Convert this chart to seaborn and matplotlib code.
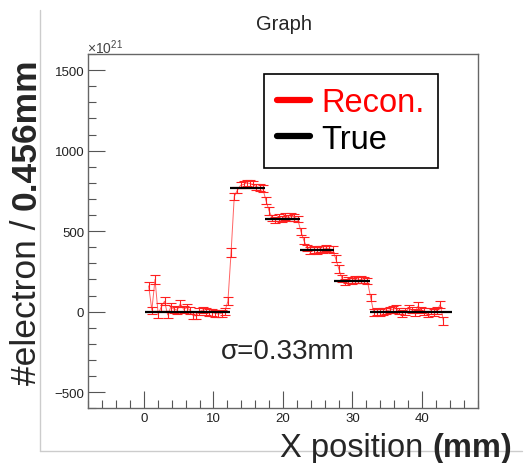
import numpy as np
import pandas as pd
import matplotlib
matplotlib.use("Agg")
import matplotlib.pyplot as plt
from matplotlib.lines import Line2D
from matplotlib.ticker import MultipleLocator
import seaborn as sns

# ------------------------------------------------------------------
# Data
# ------------------------------------------------------------------

BIN_WIDTH = 0.456   # mm, one reconstructed bin
FIRST_BIN = 0.684   # mm, centre of first reconstructed bin

# reconstructed electron counts (x1e21) per bin
recon_y = [
    160, 10, 200, -15, 30, 65, -20, 30, 15, 10, 50, 15, 25, 10, -25, -25,
    0, 10, 0, -5, -5, -10, -15, -10, 0, 65,
    370, 715, 755, 785, 790, 800, 795, 790, 775, 770, 765, 690, 625,
    580, 570, 585, 575, 590, 580, 595, 585, 575, 500, 440,
    395, 380, 385, 380, 390, 385, 395, 390, 385, 330, 265, 205,
    185, 195, 190, 200, 195, 200, 195, 190, 90,
    -5, 0, -5, 0, 5, 10, 15, 20, 5, -10, 0, 20, 10, -5, 35, 10, 0, -15,
    5, -5, 10, 45, -60,
]
recon_err = [
    25, 22, 28, 22, 24, 24, 22, 24, 22, 22, 24, 22, 22, 22, 20, 20,
    20, 20, 20, 20, 20, 20, 20, 20, 22, 25,
    28, 22, 20, 20, 20, 20, 20, 20, 20, 20, 20, 22, 22,
    20, 20, 20, 20, 20, 20, 20, 20, 20, 22, 22,
    20, 20, 20, 20, 20, 20, 20, 20, 20, 22, 22, 20,
    20, 20, 20, 20, 20, 20, 20, 20, 22,
    20, 20, 20, 20, 20, 20, 22, 22, 20, 20, 20, 22, 20, 20, 24, 20, 20, 20,
    20, 20, 22, 24, 25,
]

# true step profile
true_start = [0.2, 12.4, 17.4, 22.4, 27.4, 32.5]
true_end = [12.4, 17.4, 22.4, 27.4, 32.5, 44.3]
true_val = [0, 765, 575, 385, 192, 0]

x_ticks = [0, 10, 20, 30, 40]
y_ticks = [-500, 0, 500, 1000, 1500]

# ------------------------------------------------------------------
# Style
# ------------------------------------------------------------------

sns.set_theme(style="ticks")
plt.rcParams["font.family"] = ["Liberation Sans", "DejaVu Sans"]
plt.rcParams["mathtext.fontset"] = "custom"
plt.rcParams["mathtext.rm"] = "Liberation Sans"
plt.rcParams["mathtext.it"] = "Liberation Sans"

W, H = 527, 464
recon = pd.DataFrame({
    "x": FIRST_BIN + BIN_WIDTH * np.arange(len(recon_y)),
    "y": recon_y,
    "err": recon_err,
})

fig = plt.figure(figsize=(W / 100, H / 100), dpi=100)
fig.patch.set_facecolor("white")
ax = fig.add_axes([88.3 / W, (H - 409.3) / H, 390 / W, 354.3 / H])

sns.lineplot(data=recon, x="x", y="y", ax=ax, estimator=None, color="#ff3030",
             lw=0.7, alpha=0.75, legend=False)
ax.errorbar(recon["x"], recon["y"], yerr=recon["err"], fmt="none",
            ecolor="#ff2020", elinewidth=0.8, capsize=3.5, capthick=0.8)
ax.hlines(true_val, true_start, true_end, colors="black", lw=1.6, zorder=3)

ax.set_xlim(-8.0, 48.1)
ax.set_ylim(-600, 1600)
ax.set_xticks(x_ticks)
ax.set_yticks(y_ticks)
ax.xaxis.set_minor_locator(MultipleLocator(2))
ax.yaxis.set_minor_locator(MultipleLocator(100))
ax.tick_params(which="major", direction="in", length=12, width=0.8,
               color="#555555", labelcolor="#222222", labelsize=9.5, pad=3)
ax.tick_params(which="minor", direction="in", length=6, width=0.8, color="#555555")
for s in ax.spines.values():
    s.set_color("#666666")
    s.set_linewidth(1.0)
ax.set_xlabel("")
ax.set_ylabel("")

# legend
handles = [Line2D([], [], color="#ff0000", lw=4.5), Line2D([], [], color="black", lw=4.5)]
leg = ax.legend(handles, ["Recon.", "True"], loc="upper left",
                bbox_to_anchor=(0.4505, 0.9436), borderaxespad=0,
                fontsize=23.5, labelcolor=["#ff0000", "black"],
                handlelength=1.0, handletextpad=0.35, borderpad=0.4,
                labelspacing=0.18, frameon=True, fancybox=False)
leg.get_frame().set_edgecolor("black")
leg.get_frame().set_linewidth(1.2)
leg.get_frame().set_alpha(1)

# texts
fig.text(284 / W, 1 - 25 / H, "Graph", ha="center", va="center", fontsize=14.5)
fig.text(87 / W, 1 - 48 / H, r"$\times10^{21}$", ha="left", va="center",
         fontsize=10, color="#444444")
fig.text(288 / W, 1 - 352 / H, "σ=0.33mm", ha="center", va="center", fontsize=20)

# frame of the canvas
fig.add_artist(Line2D([40 / W, 40 / W], [1 - 11 / H, 1 - 452 / H],
                      transform=fig.transFigure, color="#cccccc", lw=1))
fig.add_artist(Line2D([40 / W, 522 / W], [1 - 452 / H, 1 - 452 / H],
                      transform=fig.transFigure, color="#cccccc", lw=1))

# axis labels: regular part + bold part
renderer = fig.canvas.get_renderer()
xl_r = fig.text(280 / W, 7 / H, "X position", ha="left", va="baseline",
                fontsize=23.5)
bb = xl_r.get_window_extent(renderer)
gap = 0.28 * 23.5 * 100 / 72
fig.text((bb.x1 + gap) / W, 7 / H, "(mm)", ha="left", va="baseline",
         fontsize=23.5, weight="bold")

yl_r = fig.text(36 / W, 1 - 385 / H, "#electron /", rotation=90,
                rotation_mode="anchor", ha="left", va="baseline", fontsize=25.5)
bb = yl_r.get_window_extent(renderer)
gap = 0.28 * 25.5 * 100 / 72
fig.text(36 / W, (bb.y1 + gap) / H, "0.456mm", rotation=90,
         rotation_mode="anchor", ha="left", va="baseline", fontsize=25.5,
         weight="bold")

fig.savefig("out.png", dpi=100, facecolor=fig.get_facecolor())
